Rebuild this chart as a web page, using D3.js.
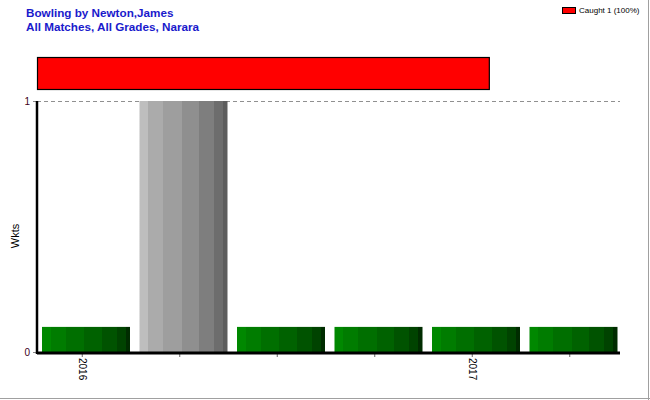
<!DOCTYPE html>
<html><head><meta charset="utf-8">
<script src="https://cdn.jsdelivr.net/npm/d3@7"></script>
<style>body{margin:0;background:#fff}svg{display:block;font-family:Arial,"Liberation Sans",sans-serif}</style>
</head><body><svg id="c" width="650" height="400"></svg>
<script>
const titleLines = ["Bowling by Newton,James", "All Matches, All Grades, Narara"];
const seasons = ["s1", "s2", "s3", "s4", "s5", "s6"];
const tickLabels = ["2016", "", "", "", "2017", ""];
const wickets = [0.1, 1, 0.1, 0.1, 0.1, 0.1];
const barKinds = ["green", "gray", "green", "green", "green", "green"];
const yTicks = [0, 1];
const dismissalTypes = ["Caught"];
const dismissalCounts = [1];
const dismissalShare = [0.775];

(function () {
const svg = d3.select("#c");
const W = 650, H = 400;
const pLeft = 37, pRight = 620, pTop = 101, pBottom = 352;

svg.append("line").attr("x1", W-1.5).attr("x2", W-1.5).attr("y1", 0).attr("y2", H).attr("stroke", "#a0a0a0").attr("stroke-width", 1);
svg.append("line").attr("x1", 0).attr("x2", W).attr("y1", H-1.5).attr("y2", H-1.5).attr("stroke", "#a0a0a0").attr("stroke-width", 1);

const defs = svg.append("defs");
const stops = [0, 0.10, 0.27, 0.48, 0.68, 0.85, 0.95, 1];
const palettes = {
  green: ["#008800", "#007c00", "#006f00", "#006200", "#005300", "#004300", "#002c00"],
  gray: ["#bebebe", "#ababab", "#9e9e9e", "#8f8f8f", "#7e7e7e", "#6d6d6d", "#5d5d5d"]
};
Object.entries(palettes).forEach(([k, cols]) => {
  const g = defs.append("linearGradient").attr("id", "g-" + k).attr("x1", 0).attr("x2", 1).attr("y1", 0).attr("y2", 0);
  cols.forEach((c, i) => {
    g.append("stop").attr("offset", stops[i]).attr("stop-color", c);
    g.append("stop").attr("offset", stops[i+1]).attr("stop-color", c);
  });
});

svg.selectAll("text.title").data(titleLines).join("text").attr("class", "title")
  .attr("x", 26).attr("y", (d, i) => 17 + i * 14)
  .attr("font-size", 11.7).attr("font-weight", "bold").attr("fill", "#1a1acc").text(d => d);

svg.append("rect").attr("x", 562.5).attr("y", 7.5).attr("width", 13).attr("height", 6)
  .attr("fill", "#ff0000").attr("stroke", "#000").attr("stroke-width", 1);
svg.append("text").attr("x", 579).attr("y", 13).attr("font-size", 8).attr("fill", "#000")
  .text(`${dismissalTypes[0]} ${dismissalCounts[0]} (100%)`);

const xs = d3.scaleLinear().domain([0, 1]).range([pLeft, pRight]);
let acc = 0;
dismissalShare.forEach((s, i) => {
  svg.append("rect").attr("x", xs(acc) + 0.5).attr("y", 57.5).attr("width", xs(acc + s) - xs(acc)).attr("height", 32)
    .attr("fill", "#ff0000").attr("stroke", "#000").attr("stroke-width", 1.2);
  acc += s;
});

const x = d3.scaleBand().domain(seasons).range([33.5, 618.5]).padding(0);
const y = d3.scaleLinear().domain([0, 1]).range([pBottom, pTop]);

svg.selectAll("line.grid").data(yTicks).join("line").attr("class", "grid")
  .attr("x1", pLeft).attr("x2", pRight).attr("y1", d => y(d) + 0.5).attr("y2", d => y(d) + 0.5)
  .attr("stroke", "#909090").attr("stroke-dasharray", "4,3");

svg.selectAll("rect.bar").data(seasons).join("rect").attr("class", "bar")
  .attr("x", d => x(d) + 8.5).attr("width", x.bandwidth() - 9.5)
  .attr("y", (d, i) => y(wickets[i])).attr("height", (d, i) => y(0) - y(wickets[i]))
  .attr("fill", (d, i) => `url(#g-${barKinds[i]})`);

const xAxis = d3.axisBottom(x).tickSize(4).tickFormat((d, i) => tickLabels[i]);
const gx = svg.append("g").attr("transform", `translate(0,${pBottom + 1})`).call(xAxis);
gx.select(".domain").remove();
gx.selectAll(".tick line").attr("stroke", "#666");
gx.selectAll(".tick text").attr("font-size", 10).attr("fill", "#000").attr("font-family", "Arial, sans-serif")
  .attr("transform", "rotate(90)").attr("text-anchor", "start").attr("x", 5).attr("y", 0).attr("dy", "0.35em");
svg.append("line").attr("x1", pLeft).attr("x2", pRight).attr("y1", pBottom + 1).attr("y2", pBottom + 1)
  .attr("stroke", "#000").attr("stroke-width", 3);

const yAxis = d3.axisLeft(y).tickValues(yTicks).tickSize(4).tickFormat(d3.format("d"));
const gy = svg.append("g").attr("transform", `translate(${pLeft},0)`).call(yAxis);
gy.select(".domain").remove();
gy.selectAll(".tick line").attr("stroke", "#888");
gy.selectAll(".tick text").attr("font-size", 10).attr("fill", "#400020").attr("font-family", "Arial, sans-serif").attr("x", -7);
svg.append("line").attr("x1", pLeft).attr("x2", pLeft).attr("y1", pTop).attr("y2", pBottom + 2)
  .attr("stroke", "#000").attr("stroke-width", 2.5);

svg.append("text").attr("transform", "translate(19,236) rotate(-90)").attr("text-anchor", "middle")
  .attr("font-size", 11).attr("fill", "#000").text("Wkts");
})();
</script></body></html>
